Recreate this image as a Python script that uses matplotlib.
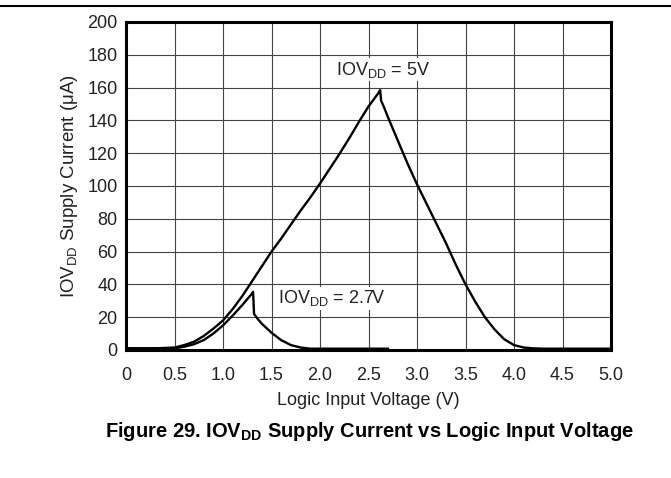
import numpy as np
import matplotlib.pyplot as plt
from matplotlib.lines import Line2D

plt.rcParams['font.family'] = ['Liberation Sans', 'DejaVu Sans']
plt.rcParams['mathtext.fontset'] = 'custom'
plt.rcParams['mathtext.rm'] = 'Liberation Sans'
plt.rcParams['mathtext.it'] = 'Liberation Sans'
plt.rcParams['mathtext.bf'] = 'Liberation Sans:bold'

# IOVDD = 5V curve (voltage in V, current in uA)
v_5v = [0, 0.3, 0.5, 0.6, 0.7, 0.8, 0.9, 1.0, 1.1, 1.2, 1.3, 1.4, 1.5, 1.6, 1.7,
        1.8, 1.9, 2.0, 2.1, 2.2, 2.3, 2.4, 2.5, 2.6, 2.62, 2.63, 2.66, 2.7, 2.8,
        2.9, 3.0, 3.1, 3.2, 3.3, 3.4, 3.5, 3.6, 3.7, 3.8, 3.9, 4.0, 4.1, 4.2, 4.3, 5.0]
i_5v = [1, 1, 1.5, 3, 5, 8.5, 13, 18, 25, 33, 42, 51, 60, 68, 76.5,
        85, 93, 101.5, 110.5, 119.5, 129, 139, 148.5, 156.5, 158.5, 152, 148, 142, 128,
        114, 101, 89, 77, 65, 52, 40, 29.5, 20, 12.5, 6.5, 3, 1.5, 1, 0.8, 0.8]

# IOVDD = 2.7V curve
v_27 = [0, 0.5, 0.6, 0.7, 0.8, 0.9, 1.0, 1.1, 1.2, 1.3, 1.31, 1.32, 1.35, 1.4,
        1.5, 1.6, 1.7, 1.8, 1.9, 2.7]
i_27 = [1, 1, 2, 3.5, 6, 10, 15, 21, 27.5, 34.5, 35.5, 22, 19.5, 16,
        10.5, 6, 3, 1.5, 0.8, 0.8]

x_ticks = [0, 0.5, 1.0, 1.5, 2.0, 2.5, 3.0, 3.5, 4.0, 4.5, 5.0]
x_labels = ['0', '0.5', '1.0', '1.5', '2.0', '2.5', '3.0', '3.5', '4.0', '4.5', '5.0']
y_ticks = list(range(0, 201, 20))

fig = plt.figure(figsize=(6.71, 4.78), dpi=100)
ax = fig.add_axes([0.1878, 0.2678, 0.7228, 0.6862])

ax.plot(v_5v, i_5v, color='black', lw=1.7)
ax.plot(v_27, i_27, color='black', lw=1.7)

ax.set_xlim(0, 5)
ax.set_ylim(0, 200)
ax.set_xticks(x_ticks)
ax.set_xticklabels(x_labels)
ax.set_yticks(y_ticks)
ax.tick_params(length=0, labelsize=13, colors='#222222')
ax.tick_params(axis='x', pad=12)
ax.tick_params(axis='y', pad=6)
ax.grid(True, color='#444444', lw=0.8)
for s in ax.spines.values():
    s.set_linewidth(2.2)

# curve labels
ax.text(2.65, 171, r'IOV$_{\mathrm{DD}}$ = 5V', fontsize=13, ha='center', va='center',
        color='#222222', bbox=dict(facecolor='white', edgecolor='none', pad=1))
ax.text(2.12, 31.5, r'IOV$_{\mathrm{DD}}$ = 2.7V', fontsize=13, ha='center', va='center',
        color='#222222', bbox=dict(facecolor='white', edgecolor='none', pad=1))

ax.set_xlabel('Logic Input Voltage (V)', fontsize=13, labelpad=6, color='#222222')
ax.set_ylabel(r'IOV$_{\mathrm{DD}}$ Supply Current ($\mu$A)', fontsize=13.5, labelpad=5,
              color='#222222')

fig.text(0.551, 0.098, r'Figure 29. IOV$_{\mathbf{DD}}$ Supply Current vs Logic Input Voltage',
         fontsize=14.5, fontweight='bold', ha='center', va='center')

fig.add_artist(Line2D([0, 1], [0.987, 0.987], color='black', lw=1.5, transform=fig.transFigure))

fig.savefig('out.png', dpi=100)
